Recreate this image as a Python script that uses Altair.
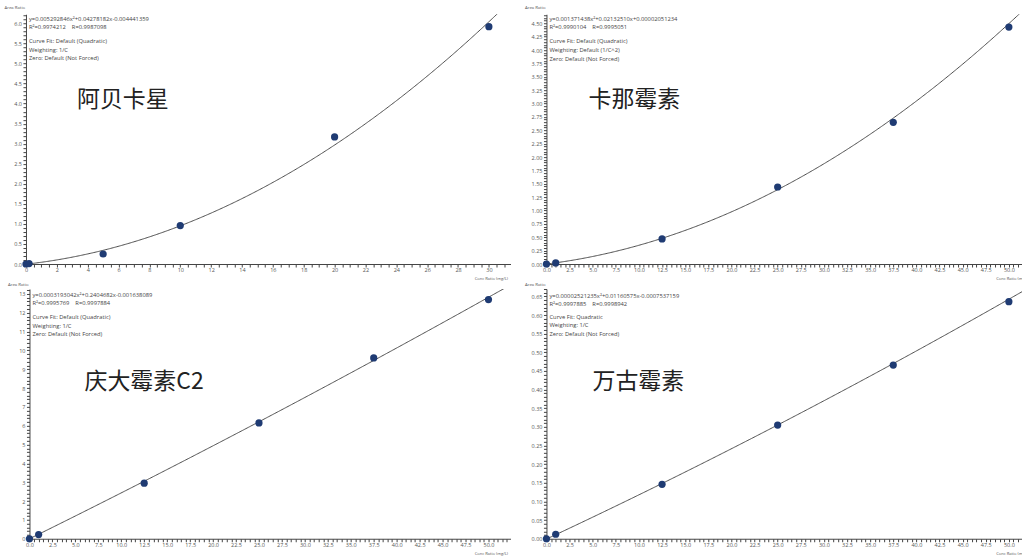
import altair as alt
import numpy as np

# ---------------- data ----------------
p1_conc = [0, 0.2, 5, 10, 20, 30]
p1_area = [0.0, 0.01, 0.25, 0.96, 3.17, 5.92]
p1_coef = [0.005292846, 0.04278182, -0.004441359]   # x^2, x, const
p1_notes = ["y=0.005292846x\u00b2+0.04278182x-0.004441359",
            "R\u00b2=0.9974212\u00a0\u00a0\u00a0\u00a0R=0.9987098",
            "Curve Fit: Default (Quadratic)",
            "Weighting: 1/C",
            "Zero: Default (Not Forced)"]
p1_name = "阿贝卡星"

p2_conc = [0, 1, 12.5, 25, 37.5, 50]
p2_area = [0.0, 0.02, 0.47, 1.44, 2.65, 4.43]
p2_coef = [0.001371438, 0.02132510, 0.00002051234]
p2_notes = ["y=0.001371438x\u00b2+0.02132510x+0.00002051234",
            "R\u00b2=0.9990104\u00a0\u00a0\u00a0\u00a0R=0.9995051",
            "Curve Fit: Default (Quadratic)",
            "Weighting: Default (1/C^2)",
            "Zero: Default (Not Forced)"]
p2_name = "卡那霉素"

p3_conc = [0, 1, 12.5, 25, 37.5, 50]
p3_area = [0.0, 0.22, 2.95, 6.15, 9.6, 12.7]
p3_coef = [0.0003193042, 0.2404682, -0.001638089]
p3_notes = ["y=0.0003193042x\u00b2+0.2404682x-0.001638089",
            "R\u00b2=0.9995769\u00a0\u00a0\u00a0\u00a0R=0.9997884",
            "Curve Fit: Default (Quadratic)",
            "Weighting: 1/C",
            "Zero: Default (Not Forced)"]
p3_name = "庆大霉素C2"

p4_conc = [0, 1, 12.5, 25, 37.5, 50]
p4_area = [0.0, 0.012, 0.146, 0.305, 0.466, 0.636]
p4_coef = [0.00002521235, 0.01160575, -0.0007537159]
p4_notes = ["y=0.00002521235x\u00b2+0.01160575x-0.0007537159",
            "R\u00b2=0.9997885\u00a0\u00a0\u00a0\u00a0R=0.9998942",
            "Curve Fit: Quadratic",
            "Weighting: 1/C",
            "Zero: Default (Not Forced)"]
p4_name = "万古霉素"

X_TITLE = "Conc Ratio (mg/L)"
Y_TITLE = "Area Ratio"

LABEL_FONT = "Open Sans"
CJK_FONT = "Noto Sans CJK SC"
POINT_COLOR = "#1f3b73"
LINE_COLOR = "#4d4d4d"
AXIS_COLOR = "#444444"
TEXT_COLOR = "#555555"


def ticks(maxv, step):
    return [float(v) for v in np.round(np.arange(0, maxv + 1e-9, step), 6)]


def label_expr(step, fmt, lmax=1e9):
    return (f"(abs(datum.value/{step} - round(datum.value/{step})) < 0.001 "
            f"&& datum.value <= {lmax}) ? format(datum.value, '{fmt}') : ''")


def text_layer(s, x, y, size, color, font, weight="normal"):
    return alt.Chart(alt.Data(values=[{"t": s}])).mark_text(
        align="left", baseline="middle", fontSize=size, font=font,
        color=color, fontWeight=weight
    ).encode(x=alt.value(x), y=alt.value(y), text="t:N")


def panel(conc, area, coef, name, notes, xmin, xmax, ymax, width, height,
          xminor, xmajor, xfmt, yminor, ymajor, yfmt,
          note_ys, name_pos, title_y, shift=0.0, xlabel_max=1e9):
    xscale = alt.Scale(domain=[xmin, xmax], nice=False, zero=False)
    yscale = alt.Scale(domain=[0, ymax], nice=False, zero=True)
    xaxis = alt.Axis(values=ticks(xmax, xminor),
                     labelExpr=label_expr(xmajor, xfmt, xlabel_max),
                     tickSize=3, tickColor=AXIS_COLOR, domainColor=AXIS_COLOR,
                     labelFontSize=5.5, labelColor=TEXT_COLOR, labelFont=LABEL_FONT,
                     labelPadding=0.5, labelOverlap=False, labelFlush=False,
                     grid=False, title=X_TITLE, titleX=width - 3, titleY=15,
                     titleAlign="right", titleBaseline="middle", titleFontSize=4.1,
                     titleFontWeight="normal", titleColor=TEXT_COLOR,
                     titleFont=LABEL_FONT)
    yaxis = alt.Axis(values=ticks(ymax, yminor), labelExpr=label_expr(ymajor, yfmt),
                     tickSize=3, tickColor=AXIS_COLOR, domainColor=AXIS_COLOR,
                     labelFontSize=5.5, labelColor=TEXT_COLOR, labelFont=LABEL_FONT,
                     labelPadding=1.5, labelOverlap=False, labelFlush=False,
                     grid=False, title=Y_TITLE, titleAngle=0, titleX=-22,
                     titleY=title_y, titleAlign="left", titleBaseline="middle",
                     titleFontSize=4.3, titleFontWeight="normal",
                     titleColor=TEXT_COLOR, titleFont=LABEL_FONT,
                     offset=-shift)

    step = xmax / 400.0
    line = alt.Chart(alt.sequence(0, xmax + step, step, as_="conc")).transform_calculate(
        area=f"{coef[0]}*datum.conc*datum.conc + {coef[1]}*datum.conc + {coef[2]}"
    ).mark_line(color=LINE_COLOR, strokeWidth=1, clip=True).encode(
        x=alt.X("conc:Q", scale=xscale, axis=xaxis),
        y=alt.Y("area:Q", scale=yscale, axis=yaxis),
    )
    pts = alt.Chart(alt.Data(values=[{"conc": c, "area": a} for c, a in zip(conc, area)])
                    ).mark_circle(size=52, color=POINT_COLOR, opacity=1).encode(
        x=alt.X("conc:Q", scale=xscale, axis=xaxis),
        y=alt.Y("area:Q", scale=yscale, axis=yaxis),
    )
    layers = [line, pts]
    for s, yy in zip(notes, note_ys):
        layers.append(text_layer(s, 3 + shift, yy, 5.8, "#444444", LABEL_FONT))
    layers.append(text_layer(name, name_pos[0] + shift, name_pos[1], 23, "#222222", CJK_FONT))
    return alt.layer(*layers).properties(width=width, height=height)


p1 = panel(p1_conc, p1_area, p1_coef, p1_name, p1_notes, 0, 31.4, 6.23, 485, 250,
           0.5, 2, "d", 0.1, 0.5, ".1f", [4.5, 13, 27, 35.5, 44], (51, 85.5), -7)
p2 = panel(p2_conc, p2_area, p2_coef, p2_name, p2_notes, 0, 52.5, 4.67, 486, 250,
           0.5, 2.5, ".1f", 0.05, 0.25, ".2f", [4.5, 12.5, 26.5, 36, 44.5], (42, 85.5), -7,
           xlabel_max=50.01)
# bottom-left panel: its y axis sits 3.5 px right of the column edge
p3 = panel(p3_conc, p3_area, p3_coef, p3_name, p3_notes, -0.38, 52.4, 13.26, 485, 250,
           0.5, 2.5, ".1f", 0.2, 1, "d", [6.2, 14.5, 28, 37.5, 45.5], (55, 93.5), -4,
           shift=3.5, xlabel_max=50.01)
p4 = panel(p4_conc, p4_area, p4_coef, p4_name, p4_notes, 0, 52.5, 0.67, 486, 250,
           0.5, 2.5, ".1f", 0.01, 0.05, ".2f", [7.2, 15, 28.5, 36.5, 45], (46, 93.5), -4,
           xlabel_max=50.01)

# the right-hand panels run past the right edge of the picture (cut off, as in the original)
chart = alt.concat(p1, p2, p3, p4, columns=2, spacing={"row": 25, "column": 36},
                   bounds="flush").properties(
    padding={"left": 4, "top": 5, "right": -11, "bottom": 0},
    background="white",
).configure_view(stroke=None)

chart.save("out.html", embed_options={"renderer": "svg", "actions": False})
